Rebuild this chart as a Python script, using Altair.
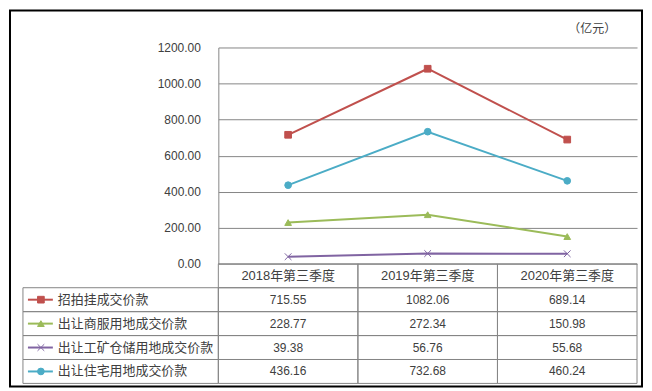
import altair as alt
import pandas as pd

categories = ["2018年第三季度", "2019年第三季度", "2020年第三季度"]
series = ["招拍挂成交价款", "出让商服用地成交价款", "出让工矿仓储用地成交价款", "出让住宅用地成交价款"]
v_zpg = [715.55, 1082.06, 689.14]
v_sf = [228.77, 272.34, 150.98]
v_gk = [39.38, 56.76, 55.68]
v_zz = [436.16, 732.68, 460.24]
colors = ["#C0504D", "#9BBB59", "#8064A2", "#4BACC6"]
shapes = ["square", "triangle-up", "M-1,-1L1,1M-1,1L1,-1", "circle"]
y_ticks = [0, 200, 400, 600, 800, 1000, 1200]
unit = "（亿元）"

FONT = "Liberation Sans, Noto Sans CJK SC"
CJK = "Noto Sans CJK SC"
TXT = "#404040"
GRID = "#868686"

rows = []
for s, vals in zip(series, [v_zpg, v_sf, v_gk, v_zz]):
    for c, v in zip(categories, vals):
        rows.append({"series": s, "quarter": c, "value": v, "label": f"{v:.2f}"})
df = pd.DataFrame(rows)

row_domain = ["hdr"] + series
tbl_rows = [{"row": "hdr", "quarter": c, "label": c} for c in categories]
tbl_rows += [{"row": r["series"], "quarter": r["quarter"], "label": r["label"]} for r in rows]
tbl = pd.DataFrame(tbl_rows)
leg = pd.DataFrame({"row": series, "series": series})
one = pd.DataFrame({"k": [0]})

color_scale = alt.Scale(domain=series, range=colors)
shape_scale = alt.Scale(domain=series, range=shapes)

# ---- top: line chart ----
base = alt.Chart(df).encode(
    x=alt.X("quarter:N", sort=categories, scale=alt.Scale(type="point", padding=0.5), axis=None),
    y=alt.Y(
        "value:Q",
        scale=alt.Scale(domain=[0, 1200], nice=False),
        axis=alt.Axis(
            values=y_ticks, labelExpr="format(datum.value, '.2f')", title=None,
            ticks=False, labelPadding=18, domainColor=GRID, gridColor=GRID,
            labelFont=FONT, labelFontSize=12, labelColor=TXT,
        ),
    ),
    color=alt.Color("series:N", scale=color_scale, legend=None),
)
lines = base.mark_line(strokeWidth=2)
points = base.mark_point(filled=True, size=45, opacity=1, strokeWidth=1).encode(
    shape=alt.Shape("series:N", scale=shape_scale, legend=None),
    stroke=alt.Stroke("series:N", scale=color_scale, legend=None),
)
frame = alt.Chart(one).mark_rect(fill="transparent", stroke="#000000", strokeWidth=2).encode(
    x=alt.value(-209), x2=alt.value(425), y=alt.value(-37), y2=alt.value(340)
)
unit_text = alt.Chart(one).mark_text(
    text=unit, align="right", baseline="middle", font=CJK, fontSize=12, color=TXT
).encode(x=alt.value(399), y=alt.value(-19))

top = alt.layer(frame, lines, points, unit_text).properties(width=420, height=217)

# ---- bottom: data table ----
x_t = alt.X("quarter:N", sort=categories,
            scale=alt.Scale(domain=categories, paddingInner=0, paddingOuter=0), axis=None)
y_rect = alt.Y("row:N", sort=row_domain,
               scale=alt.Scale(domain=row_domain, paddingInner=0, paddingOuter=0), axis=None)
y_mid = alt.Y("row:N", sort=row_domain, bandPosition=0.5,
              scale=alt.Scale(domain=row_domain, paddingInner=0, paddingOuter=0), axis=None)

cells = alt.Chart(tbl).mark_rect(fill="transparent", stroke=GRID, strokeWidth=1).encode(x=x_t, y=y_rect)
hdr_text = alt.Chart(tbl).transform_filter(alt.datum.row == "hdr").mark_text(
    font=FONT, fontSize=13, color=TXT, baseline="middle"
).encode(x=x_t, y=y_mid, text="label:N")
val_text = alt.Chart(tbl).transform_filter(alt.datum.row != "hdr").mark_text(
    font=FONT, fontSize=12, color=TXT, baseline="middle"
).encode(x=x_t, y=y_mid, text="label:N")
leg_rect = alt.Chart(leg).mark_rect(fill="transparent", stroke=GRID, strokeWidth=1).encode(
    x=alt.value(-196), x2=alt.value(0), y=y_rect
)
leg_line = alt.Chart(leg).mark_rule(strokeWidth=2).encode(
    x=alt.value(-191), x2=alt.value(-166), y=y_mid,
    color=alt.Color("series:N", scale=color_scale, legend=None),
)
leg_point = alt.Chart(leg).mark_point(filled=True, size=45, opacity=1, strokeWidth=1).encode(
    x=alt.value(-178), y=y_mid,
    color=alt.Color("series:N", scale=color_scale, legend=None),
    stroke=alt.Stroke("series:N", scale=color_scale, legend=None),
    shape=alt.Shape("series:N", scale=shape_scale, legend=None),
)
leg_text = alt.Chart(leg).mark_text(align="left", baseline="middle", font=CJK, fontSize=13, color=TXT).encode(
    x=alt.value(-161), y=y_mid, text="series:N"
)
bottom = alt.layer(cells, hdr_text, val_text, leg_rect, leg_line, leg_point, leg_text).properties(width=420, height=120)

chart = (
    alt.vconcat(top, bottom, spacing=0, bounds="flush")
    .resolve_scale(x="independent", y="independent", color="independent", shape="independent", stroke="independent")
    .properties(padding=0)
    .configure_view(stroke="transparent")
)
chart.save("out.html", embed_options={"renderer": "svg", "actions": False})
